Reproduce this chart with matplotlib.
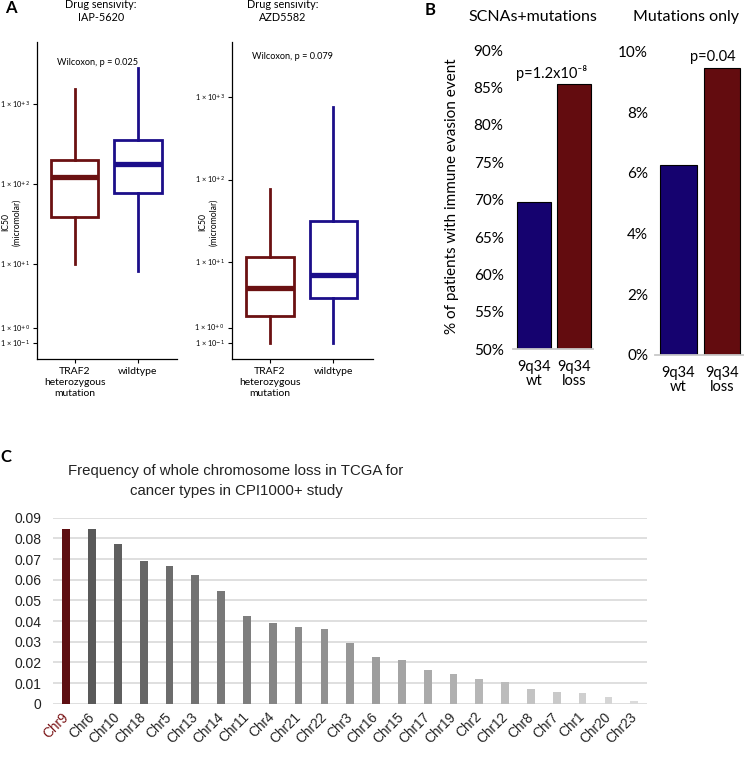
import numpy as np
import matplotlib
matplotlib.use('Agg')
import matplotlib.pyplot as plt
from matplotlib.ticker import FixedLocator, NullLocator

# ---------------- Panel A data ----------------
a_groups = ["TRAF2\nheterozygous\nmutation", "wildtype"]
a_ticks = [0.1, 1, 10, 100, 1000]
a_ticklabels = ["1 × 10$^{-1}$", "1 × 10$^{+0}$", "1 × 10$^{+1}$",
                "1 × 10$^{+2}$", "1 × 10$^{+3}$"]
iap_whislo = [10.0, 8.2]
iap_q1 = [39.0, 77.8]
iap_med = [123.0, 179.0]
iap_q3 = [200.0, 356.0]
iap_whishi = [1540.0, 2810.0]

azd_whislo = [0.1, 0.08]
azd_q1 = [1.75, 3.4]
azd_med = [4.64, 6.89]
azd_q3 = [11.6, 31.8]
azd_whishi = [77.0, 751.0]

# ---------------- Panel B data ----------------
b_cats = ["9q34\nwt", "9q34\nloss"]
b_scna = [69.7, 85.4]
b_mut = [6.26, 9.45]

# ---------------- Panel C data ----------------
chroms = ["Chr9", "Chr6", "Chr10", "Chr18", "Chr5", "Chr13", "Chr14", "Chr11",
          "Chr4", "Chr21", "Chr22", "Chr3", "Chr16", "Chr15", "Chr17", "Chr19",
          "Chr2", "Chr12", "Chr8", "Chr7", "Chr1", "Chr20", "Chr23"]
loss_freq = [0.0845, 0.0843, 0.0771, 0.0692, 0.0666, 0.0621, 0.0545, 0.0423,
             0.0392, 0.0369, 0.0360, 0.0292, 0.0226, 0.0213, 0.0163, 0.0142,
             0.0119, 0.0103, 0.0071, 0.0057, 0.0050, 0.0032, 0.0013]

RED_A = "#6B1112"
BLUE_A = "#1C0E8A"
RED_B = "#630C0F"
BLUE_B = "#15026F"

W, H = 744, 760
fig = plt.figure(figsize=(W / 100, H / 100), dpi=100)
plt.rcParams['font.family'] = ['Lato', 'DejaVu Sans']


def rect(l, r, t, b):
    return [l / W, (H - b) / H, (r - l) / W, (b - t) / H]


fwd = lambda y: np.arcsinh(np.asarray(y) / 2.0)
inv = lambda u: 2.0 * np.sinh(np.asarray(u))


def box_panel(axrect, whislo, q1, med, q3, whishi, ylim):
    ax = fig.add_axes(axrect)
    ax.set_yscale('function', functions=(fwd, inv))
    cols = [RED_A, BLUE_A]
    for i in range(len(a_groups)):
        st = dict(whislo=whislo[i], q1=q1[i], med=med[i], q3=q3[i],
                  whishi=whishi[i], fliers=[])
        ax.bxp([st], positions=[i + 1], widths=0.75, showfliers=False,
               showcaps=False, patch_artist=True,
               boxprops=dict(facecolor='white', edgecolor=cols[i], linewidth=2.0),
               whiskerprops=dict(color=cols[i], linewidth=2.0),
               medianprops=dict(color=cols[i], linewidth=3.8, solid_capstyle='butt'))
    ax.set_xlim(0.4, 2.62)
    ax.set_ylim(*ylim)
    ax.yaxis.set_major_locator(FixedLocator(a_ticks))
    ax.yaxis.set_minor_locator(NullLocator())
    ax.set_yticklabels(a_ticklabels, fontsize=5.3)
    ax.set_xticks([1, 2])
    ax.set_xticklabels(a_groups, fontsize=7.5, linespacing=1.25)
    ax.tick_params(axis='both', length=3, width=0.8, pad=2)
    ax.tick_params(axis='x', pad=3)
    for s in ['top', 'right']:
        ax.spines[s].set_visible(False)
    for s in ['left', 'bottom']:
        ax.spines[s].set_linewidth(0.9)
    return ax


axA1 = box_panel(rect(37, 177, 42, 359), iap_whislo, iap_q1, iap_med, iap_q3,
                 iap_whishi, (-0.837, 5920))
axA1.text(0.143, 0.934, "Wilcoxon, p = 0.025", transform=axA1.transAxes,
          fontsize=6.6, ha='left', va='center')
fig.text(101 / W, 1 - 11 / H, "Drug sensivity:\nIAP-5620", fontsize=7.8,
         ha='center', va='center', linespacing=1.3)
fig.text(11 / W, 1 - 222 / H, "IC50\n(micromolar)", fontsize=6.2, rotation=90,
         ha='center', va='center', linespacing=1.3)

axA2 = box_panel(rect(231.7, 372.7, 42, 359), azd_whislo, azd_q1, azd_med, azd_q3,
                 azd_whishi, (-0.81, 4629))
axA2.text(0.142, 0.953, "Wilcoxon, p = 0.079", transform=axA2.transAxes,
          fontsize=6.6, ha='left', va='center')
fig.text(283 / W, 1 - 11 / H, "Drug sensivity:\nAZD5582", fontsize=7.8,
         ha='center', va='center', linespacing=1.3)
fig.text(208 / W, 1 - 222 / H, "IC50\n(micromolar)", fontsize=6.2, rotation=90,
         ha='center', va='center', linespacing=1.3)


# ---------------- Panel B ----------------
def bar_panel(axrect, vals, ylim, yticks, xlim, width, pad):
    ax = fig.add_axes(axrect)
    x = np.arange(len(vals))
    ax.bar(x, vals, width=width, color=[BLUE_B, RED_B], edgecolor='black',
           linewidth=0.8)
    ax.set_ylim(*ylim)
    ax.set_xlim(*xlim)
    ax.set_yticks(yticks)
    ax.set_yticklabels([f"{v:g}%" for v in yticks], fontsize=11)
    ax.set_xticks(x)
    ax.set_xticklabels(b_cats, fontsize=10.5, linespacing=1.0)
    ax.tick_params(axis='y', length=0, pad=pad)
    ax.tick_params(axis='x', length=0, pad=8)
    for s in ['top', 'right', 'left']:
        ax.spines[s].set_visible(False)
    ax.spines['bottom'].set_color('#C8C8C8')
    ax.spines['bottom'].set_linewidth(1.3)
    return ax


axB1 = bar_panel(rect(513.3, 593, 50, 349.3), b_scna, (50, 90),
                 list(range(50, 91, 5)), (-0.51, 1.47), 0.85, 7)
axB1.text(0.45, b_scna[1] + 0.4, "p=1.2x10⁻⁸", ha='center', va='bottom',
          fontsize=10.5, clip_on=False, family=['Lato', 'DejaVu Sans'])
fig.text(533 / W, 1 - 17 / H, "SCNAs+mutations", fontsize=11.5, ha='center', va='center')
fig.text(452 / W, 1 - 196 / H, "% of patients with immune evasion event",
         fontsize=11, rotation=90, ha='center', va='center')

axB2 = bar_panel(rect(655, 744, 51.7, 354.7), b_mut, (0, 10),
                 list(range(0, 11, 2)), (-0.54, 1.5), 0.83, 5)
axB2.text(0.78, b_mut[1] + 0.15, "p=0.04", ha='center', va='bottom',
          fontsize=10.5, clip_on=False)
fig.text(686 / W, 1 - 17 / H, "Mutations only", fontsize=11.5, ha='center', va='center')

# ---------------- Panel C ----------------
axC = fig.add_axes(rect(53.3, 647.1, 517.7, 703.7))
n = len(chroms)
xc = np.arange(n)
greys = [str(0.35 + 0.51 * (i - 1) / (n - 2)) for i in range(1, n)]
colsC = ["#5E0F12"] + greys
axC.bar(xc, loss_freq, width=0.3, color=colsC, zorder=3)
axC.set_xlim(-0.5, n - 0.5)
axC.set_ylim(0, 0.09)
yt = [0, 0.01, 0.02, 0.03, 0.04, 0.05, 0.06, 0.07, 0.08, 0.09]
axC.set_yticks(yt)
axC.set_yticklabels(["0"] + [f"{v:.2f}" for v in yt[1:]],
                    fontsize=10, family=['Liberation Sans', 'DejaVu Sans'], color='#222222')
axC.yaxis.grid(True, color='#D9D9D9', linewidth=1.2, zorder=0)
axC.set_axisbelow(True)
axC.set_xticks(xc)
axC.set_xticklabels(chroms, rotation=45, ha='right', va='center',
                    rotation_mode='anchor', fontsize=9.8,
                    family=['Liberation Sans', 'DejaVu Sans'], color='#222222')
axC.get_xticklabels()[0].set_color("#7A1416")
axC.tick_params(axis='both', length=0)
axC.tick_params(axis='x', pad=8)
axC.tick_params(axis='y', pad=8.5)
for s in axC.spines.values():
    s.set_visible(False)
fig.text(236 / W, 1 - 481 / H,
         "Frequency of whole chromosome loss in TCGA for\ncancer types in CPI1000+ study",
         fontsize=10.8, ha='center', va='center', linespacing=1.55,
         family=['Liberation Sans Narrow', 'Liberation Sans', 'DejaVu Sans'],
         color='#222222')

# Panel letters
fig.text(11 / W, 1 - 8 / H, "A", fontsize=12, fontweight='bold', ha='center', va='center')
fig.text(430 / W, 1 - 10 / H, "B", fontsize=12, fontweight='bold', ha='center', va='center')
fig.text(6 / W, 1 - 457 / H, "C", fontsize=12, fontweight='bold', ha='center', va='center')

fig.savefig("out.png", dpi=100)
